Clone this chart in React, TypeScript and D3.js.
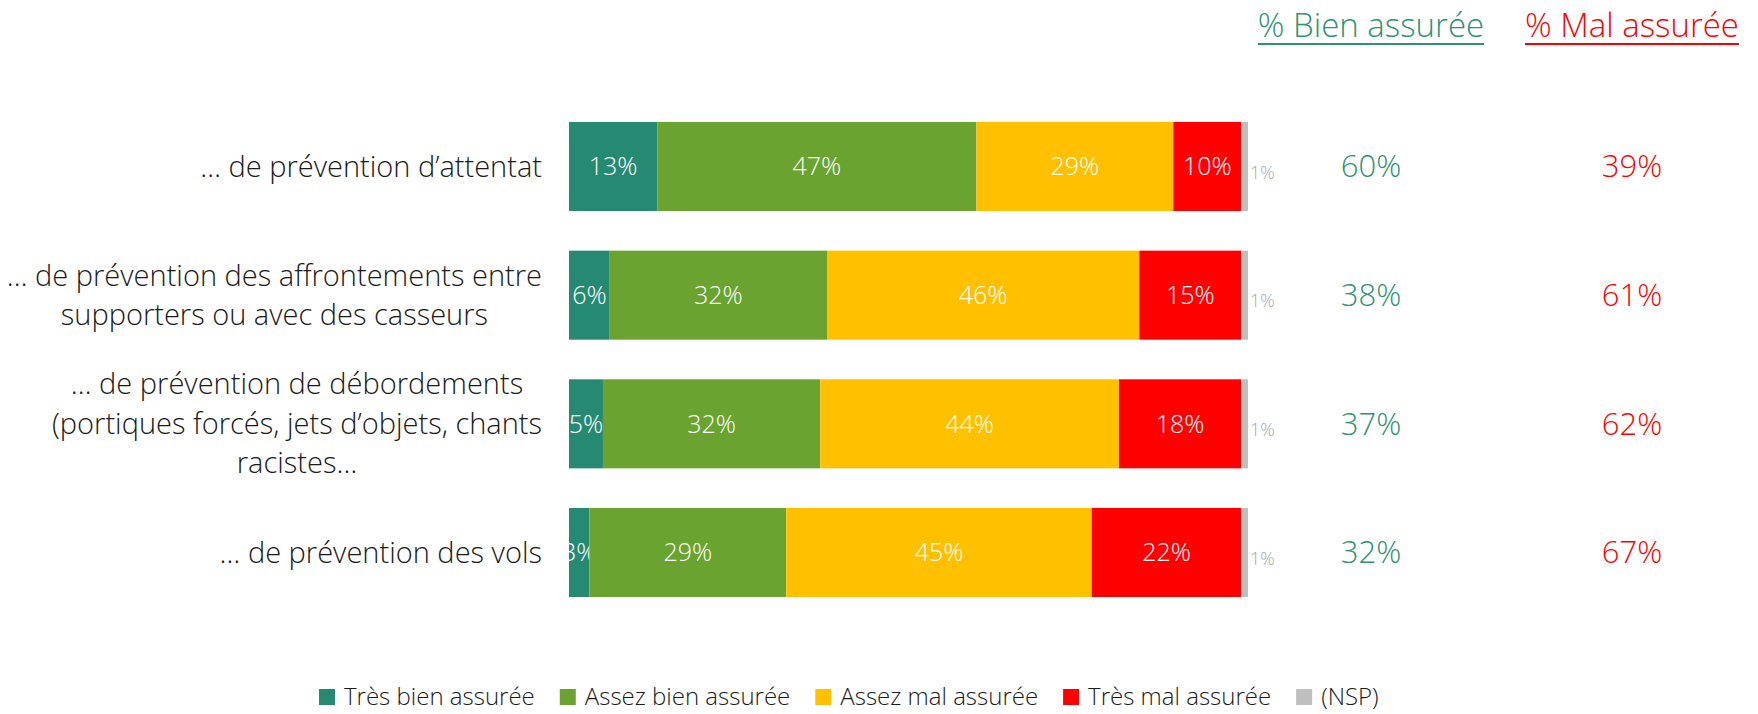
import React, { useEffect, useRef } from 'react';
import * as d3 from 'd3';

const categories: string[][] = [
  ['… de prévention d’attentat'],
  ['… de prévention des affrontements entre', 'supporters ou avec des casseurs'],
  ['… de prévention de débordements', '(portiques forcés, jets d’objets, chants', 'racistes…'],
  ['… de prévention des vols'],
];
const seriesNames = ['Très bien assurée', 'Assez bien assurée', 'Assez mal assurée', 'Très mal assurée', '(NSP)'];
const seriesColors = ['#268A72', '#6AA32F', '#FFC000', '#FF0000', '#BFBFBF'];
const tresBien = [13, 6, 5, 3];
const assezBien = [47, 32, 32, 29];
const assezMal = [29, 46, 44, 45];
const tresMal = [10, 15, 18, 22];
const nsp = [1, 1, 1, 1];
const totalBien = [60, 38, 37, 32];
const totalMal = [39, 61, 62, 67];

const W = 1758;
const H = 714;
const FONT = '"Open Sans", "Segoe UI", sans-serif';
const TEAL_TXT = '#2E9273';
const BIEN_X = 1371;
const MAL_X = 1632;

const App: React.FC = () => {
  const svgRef = useRef<SVGSVGElement>(null);

  useEffect(() => {
    document.body.style.margin = '0';
    if (!svgRef.current) return;
    const svg = d3.select(svgRef.current);
    svg.selectAll('*').remove();

    const series = [tresBien, assezBien, assezMal, tresMal, nsp];
    const rows = categories.map((c, i) => ({ i, values: series.map(s => s[i]) }));

    const x = d3.scaleLinear().domain([0, 100]).range([569, 1248]);
    const y = d3.scaleBand<number>().domain(d3.range(categories.length)).range([122, 597]).paddingInner(0.308).paddingOuter(0);

    // headers
    const headers = [
      { text: '% Bien assurée', x: BIEN_X, color: TEAL_TXT },
      { text: '% Mal assurée', x: MAL_X, color: '#FF0000' },
    ];
    headers.forEach(h => {
      const t = svg.append('text')
        .attr('x', h.x).attr('y', 37)
        .attr('text-anchor', 'middle')
        .attr('font-family', FONT).attr('font-weight', 300)
        .attr('font-size', 33).attr('fill', h.color)
        .text(h.text);
      const w = (t.node() as SVGTextElement).getComputedTextLength();
      svg.append('line')
        .attr('x1', h.x - w / 2).attr('x2', h.x + w / 2)
        .attr('y1', 44).attr('y2', 44)
        .attr('stroke', h.color).attr('stroke-width', 2);
    });

    const g = svg.append('g');
    rows.forEach(r => {
      const y0 = y(r.i)!;
      const cy = y0 + y.bandwidth() / 2;
      let acc = 0;
      r.values.forEach((v, k) => {
        g.append('rect')
          .attr('x', x(acc)).attr('y', y0)
          .attr('width', x(acc + v) - x(acc)).attr('height', y.bandwidth())
          .attr('fill', seriesColors[k]);
        if (k < 4) {
          g.append('text')
            .attr('x', (x(acc) + x(acc + v)) / 2).attr('y', cy)
            .attr('dy', '0.35em').attr('text-anchor', 'middle')
            .attr('font-family', FONT).attr('font-weight', 300)
            .attr('font-size', 25).attr('fill', '#fff')
            .text(`${v}%`);
        } else {
          g.append('text')
            .attr('x', x(acc + v) + 2).attr('y', cy + 6)
            .attr('dy', '0.35em').attr('text-anchor', 'start')
            .attr('font-family', FONT).attr('font-weight', 300)
            .attr('font-size', 18).attr('fill', '#A6A6A6')
            .text(`${v}%`);
        }
        acc += v;
      });

      // totals
      g.append('text')
        .attr('x', BIEN_X).attr('y', cy).attr('dy', '0.35em')
        .attr('text-anchor', 'middle')
        .attr('font-family', FONT).attr('font-weight', 300)
        .attr('font-size', 31).attr('fill', TEAL_TXT)
        .text(`${totalBien[r.i]}%`);
      g.append('text')
        .attr('x', MAL_X).attr('y', cy).attr('dy', '0.35em')
        .attr('text-anchor', 'middle')
        .attr('font-family', FONT).attr('font-weight', 300)
        .attr('font-size', 31).attr('fill', '#FF0000')
        .text(`${totalMal[r.i]}%`);

      // category label
      const lines = categories[r.i];
      const lh = 39.5;
      const lab = g.append('g');
      const texts = lines.map((ln, j) =>
        lab.append('text')
          .attr('x', 0).attr('y', cy + (j - (lines.length - 1) / 2) * lh)
          .attr('dy', '0.35em').attr('text-anchor', 'middle')
          .attr('font-family', FONT).attr('font-weight', 300)
          .attr('font-size', 29).attr('fill', '#1a1a1a')
          .text(ln)
      );
      const maxW = d3.max(texts, t => (t.node() as SVGTextElement).getComputedTextLength()) || 0;
      lab.attr('transform', `translate(${542 - maxW / 2},0)`);
    });

    // legend
    const lg = svg.append('g');
    let lx = 319;
    const ly = 697;
    seriesNames.forEach((n, k) => {
      lg.append('rect').attr('x', lx).attr('y', ly - 8).attr('width', 16).attr('height', 16).attr('fill', seriesColors[k]);
      const t = lg.append('text')
        .attr('x', lx + 25).attr('y', ly).attr('dy', '0.35em')
        .attr('font-family', FONT).attr('font-weight', 300)
        .attr('font-size', 24).attr('fill', '#1a1a1a')
        .text(n);
      lx += 25 + (t.node() as SVGTextElement).getComputedTextLength() + 25;
    });
  }, []);

  return <svg ref={svgRef} width={W} height={H} style={{ display: 'block', background: '#fff' }} />;
};

export default App;
